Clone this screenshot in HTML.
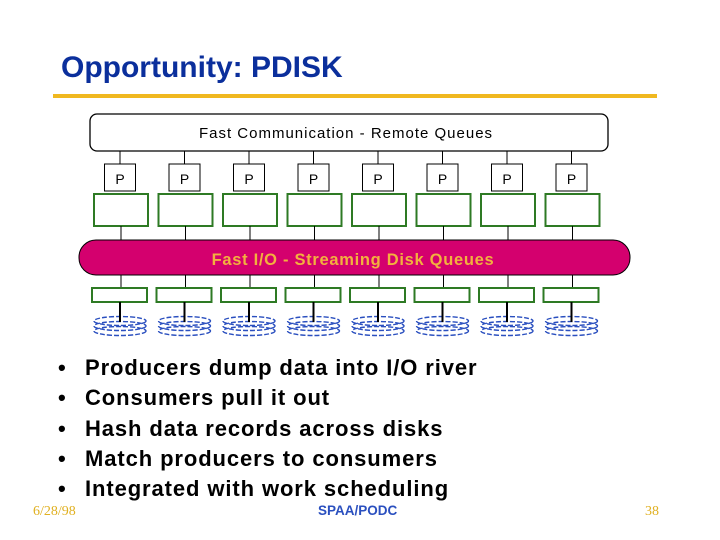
<!DOCTYPE html>
<html><head><meta charset="utf-8"><style>
html,body{margin:0;padding:0;background:#fff;}
svg{display:block;}
</style></head><body>
<svg width="720" height="540" viewBox="0 0 720 540" xmlns="http://www.w3.org/2000/svg" font-family="Liberation Sans, sans-serif">
<defs>
<g id="col">
<line x1="0" y1="151" x2="0" y2="164" stroke="#000"/>
<rect x="-15.5" y="164" width="31" height="27" fill="#fff" stroke="#000"/>
<text x="0" y="184" font-size="14" text-anchor="middle">P</text>
<rect x="-26" y="194" width="54" height="32" fill="#fff" stroke="#2e7a24" stroke-width="2"/>
<line x1="1" y1="226" x2="1" y2="240" stroke="#000"/>
<line x1="1" y1="275" x2="1" y2="288" stroke="#000"/>
<rect x="-28" y="288" width="55" height="14" fill="#fff" stroke="#2e7a24" stroke-width="2"/>
<g fill="none" stroke="#2a4fbf" stroke-width="1.4" stroke-dasharray="5,2">
<ellipse cx="0" cy="321" rx="26" ry="4.5"/>
<ellipse cx="0" cy="326" rx="26" ry="4.5"/>
<ellipse cx="0" cy="331" rx="26" ry="4.5"/>
</g>
<line x1="0" y1="302" x2="0" y2="322" stroke="#000" stroke-width="2"/>
</g>
</defs>
<text x="61" y="77" font-size="30" font-weight="bold" fill="#0b2f9c">Opportunity: PDISK</text>
<rect x="53" y="94" width="604" height="4" fill="#f0b820"/>
<rect x="90" y="114" width="518" height="37" rx="7" fill="#fff" stroke="#000" stroke-width="1.3"/>
<text x="346" y="138" font-size="15" text-anchor="middle" fill="#000" letter-spacing="1">Fast Communication - Remote Queues</text>
<rect x="79" y="240" width="551" height="35" rx="17" fill="#d4006e" stroke="#000" stroke-width="1"/>
<text x="353" y="265" font-size="16.5" font-weight="bold" text-anchor="middle" fill="#f2b13e" letter-spacing="0.7">Fast I/O - Streaming Disk Queues</text>
<use href="#col" x="120"/>
<use href="#col" x="184.5"/>
<use href="#col" x="249"/>
<use href="#col" x="313.5"/>
<use href="#col" x="378"/>
<use href="#col" x="442.5"/>
<use href="#col" x="507"/>
<use href="#col" x="571.5"/>
<g font-size="22" font-weight="bold" fill="#000" letter-spacing="0.9">
<text x="58" y="375">•</text><text x="85" y="375">Producers dump data into I/O river</text>
<text x="58" y="405">•</text><text x="85" y="405">Consumers pull it out</text>
<text x="58" y="436">•</text><text x="85" y="436">Hash data records across disks</text>
<text x="58" y="466">•</text><text x="85" y="466">Match producers to consumers</text>
<text x="58" y="496">•</text><text x="85" y="496">Integrated with work scheduling</text>
</g>
<text x="33" y="515" font-size="14" font-family="Liberation Serif, serif" fill="#e0b020">6/28/98</text>
<text x="318" y="515" font-size="13.5" font-weight="bold" fill="#2a4fbf">SPAA/PODC</text>
<text x="645" y="515" font-size="14" font-family="Liberation Serif, serif" fill="#e0b020">38</text>
</svg>
</body></html>
